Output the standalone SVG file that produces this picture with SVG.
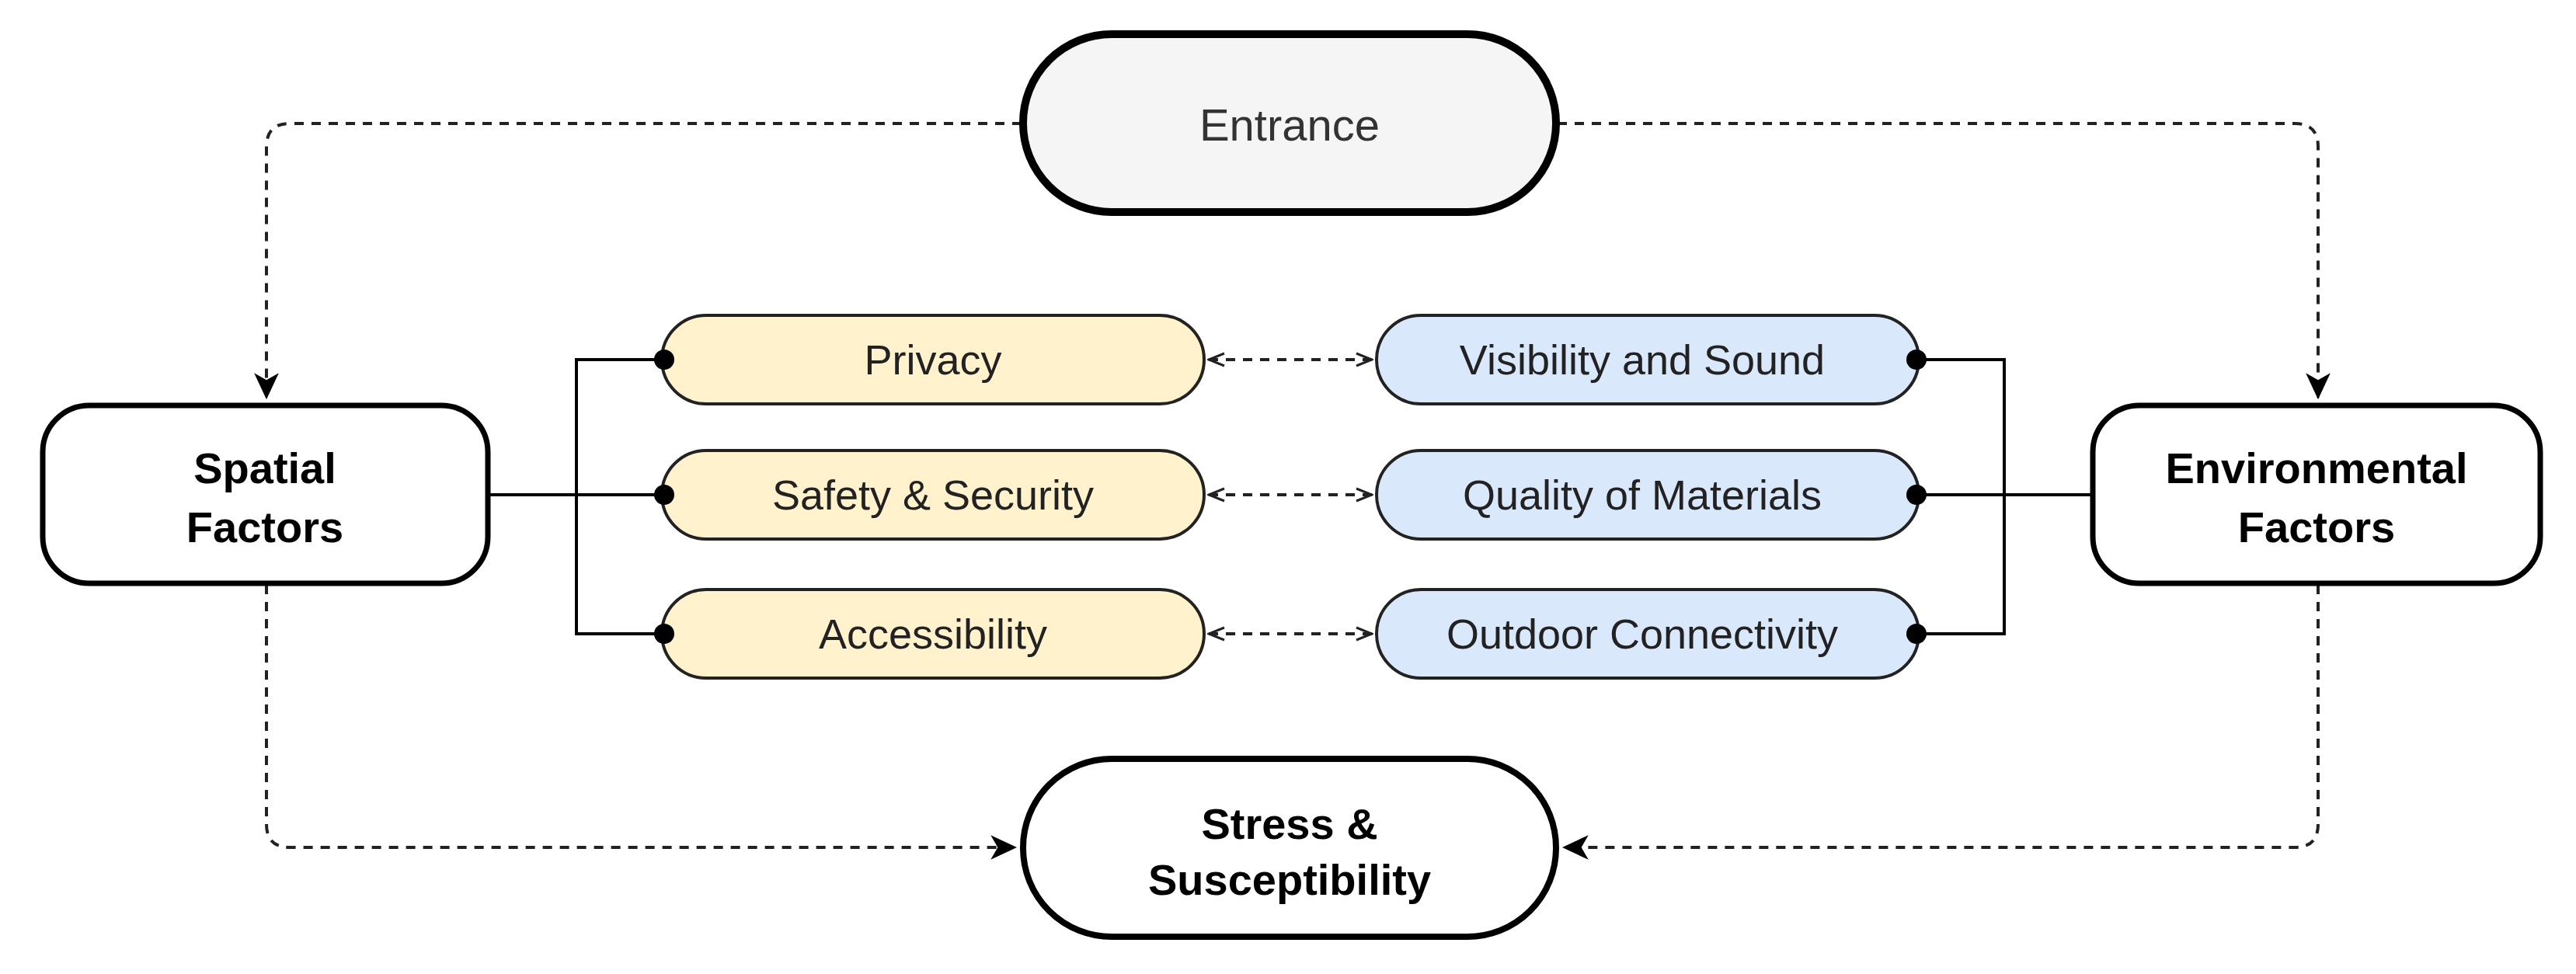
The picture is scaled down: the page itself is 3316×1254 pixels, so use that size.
<svg xmlns="http://www.w3.org/2000/svg" width="3316" height="1254" viewBox="0 0 3316 1254">
<style>
.t{font-family:"Liberation Sans",Arial,sans-serif;text-anchor:middle;dominant-baseline:central}
.big{font-size:56px;font-weight:bold;fill:#000}
.pt{font-size:54px;fill:#222}
.pill{stroke:#222;stroke-width:4}
.y{fill:#fff2cc}.b{fill:#dae8fc}
.ln{fill:none;stroke:#000;stroke-width:4}
.ds{fill:none;stroke:#222;stroke-width:4;stroke-dasharray:12 10}
</style>
<defs>
<marker id="ah" viewBox="0 0 20 20" refX="18" refY="10" markerWidth="20" markerHeight="20" markerUnits="userSpaceOnUse" orient="auto"><path d="M0,0 L20,10 L0,20 L6,10 Z" fill="#000" transform="scale(1)"/></marker>
<marker id="big" viewBox="0 0 30 30" refX="28" refY="15" markerWidth="34" markerHeight="34" markerUnits="userSpaceOnUse" orient="auto"><path d="M0,1 L30,15 L0,29 L8,15 Z" fill="#000"/></marker>
<marker id="op" viewBox="0 0 24 20" refX="22" refY="10" markerWidth="24" markerHeight="20" markerUnits="userSpaceOnUse" orient="auto-start-reverse"><path d="M2,2 L22,10 L2,18" fill="none" stroke="#222" stroke-width="3"/></marker>
</defs>
<g id="connectors">
<path class="ds" d="M1315,159 H373 Q343,159 343,189 V512" marker-end="url(#big)"/>
<path class="ds" d="M2005,159 H2954 Q2984,159 2984,189 V512" marker-end="url(#big)"/>
<path class="ds" d="M343,753 V1061 Q343,1091 373,1091 H1307" marker-end="url(#big)"/>
<path class="ds" d="M2984,753 V1061 Q2984,1091 2954,1091 H2013" marker-end="url(#big)"/>
<path class="ln" d="M628,637 H852 M852,463 H742 V816 H852"/>
<path class="ln" d="M2692,637 H2470 M2470,463 H2580 V816 H2470"/>
<line class="ds" x1="1556" y1="463" x2="1766" y2="463" marker-start="url(#op)" marker-end="url(#op)"/>
<line class="ds" x1="1556" y1="637" x2="1766" y2="637" marker-start="url(#op)" marker-end="url(#op)"/>
<line class="ds" x1="1556" y1="816" x2="1766" y2="816" marker-start="url(#op)" marker-end="url(#op)"/>
</g>
<g id="entrance"><rect x="1317" y="44" width="686" height="229" rx="114" fill="#f5f5f5" stroke="#000" stroke-width="10"/><text class="t" x="1660" y="160" font-size="58" fill="#333">Entrance</text></g>
<g id="stress"><rect x="1317" y="977" width="686" height="229" rx="114" fill="#fff" stroke="#000" stroke-width="8"/><text class="t big" x="1660" y="1060">Stress &amp;</text><text class="t big" x="1660" y="1132">Susceptibility</text></g>
<g id="spatial"><rect x="55" y="522" width="573" height="229" rx="60" fill="#fff" stroke="#000" stroke-width="7"/><text class="t big" x="341" y="602">Spatial</text><text class="t big" x="341" y="678">Factors</text></g>
<g id="environmental"><rect x="2694" y="522" width="576" height="229" rx="60" fill="#fff" stroke="#000" stroke-width="7"/><text class="t big" x="2982" y="602">Environmental</text><text class="t big" x="2982" y="678">Factors</text></g>
<g id="privacy"><rect class="pill y" x="852" y="406" width="698" height="114" rx="57"/><text class="t pt" x="1201" y="463">Privacy</text></g>
<g id="safety"><rect class="pill y" x="852" y="580" width="698" height="114" rx="57"/><text class="t pt" x="1201" y="637">Safety &amp; Security</text></g>
<g id="accessibility"><rect class="pill y" x="852" y="759" width="698" height="114" rx="57"/><text class="t pt" x="1201" y="816">Accessibility</text></g>
<g id="visibility"><rect class="pill b" x="1772" y="406" width="698" height="114" rx="57"/><text class="t pt" x="2114" y="463">Visibility and Sound</text></g>
<g id="quality"><rect class="pill b" x="1772" y="580" width="698" height="114" rx="57"/><text class="t pt" x="2114" y="637">Quality of Materials</text></g>
<g id="outdoor"><rect class="pill b" x="1772" y="759" width="698" height="114" rx="57"/><text class="t pt" x="2114" y="816">Outdoor Connectivity</text></g>
<g id="dots" fill="#000">
<circle cx="855" cy="463" r="13"/><circle cx="855" cy="637" r="13"/><circle cx="855" cy="816" r="13"/>
<circle cx="2467" cy="463" r="13"/><circle cx="2467" cy="637" r="13"/><circle cx="2467" cy="816" r="13"/>
</g>
</svg>
